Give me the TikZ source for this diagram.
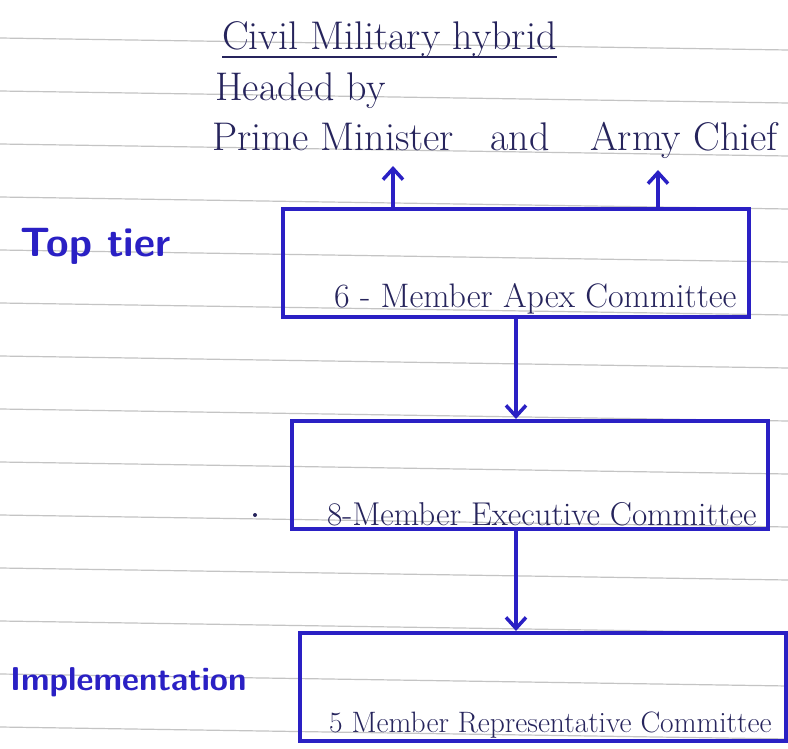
\documentclass[tikz,border=0pt]{standalone}
\usetikzlibrary{arrows.meta}

\definecolor{ink}{RGB}{38,36,92}
\definecolor{pen}{RGB}{42,32,196}
\definecolor{ruling}{RGB}{196,196,196}

\tikzset{
  note/.style={text=ink, font=\fontsize{40}{44}\selectfont, inner sep=0pt, anchor=base west},
  tier/.style={text=pen, font=\sffamily\bfseries\fontsize{33}{36}\selectfont, inner sep=0pt, anchor=base west},
  box/.style={draw=pen, line width=4pt, anchor=north west, minimum height=108},
  boxtext/.style={anchor=south west, text=ink, font=\fontsize{34}{36}\selectfont, inner sep=5pt},
  link/.style={draw=pen, line width=3.5pt, -{Straight Barb[length=11pt,width=20pt]}}
}

\begin{document}
\begin{tikzpicture}[x=1pt,y=-1pt]
  \useasboundingbox[fill=white] (0,0) rectangle (788,749);
  % ruled paper
  \foreach \y in {-15,38,...,780}
    \draw[ruling, line width=1.2pt] (0,\y) -- (788,\y+12);

  % heading
  \node[note] (hybrid) at (222,50) {Civil Military hybrid};
  \draw[ink, line width=1.3pt] ([yshift=-7pt]hybrid.base west) -- ([yshift=-7pt]hybrid.base east);
  \node[note] (head) at (215,101) {Headed by};
  \node[note] (pm) at (212,151) {Prime Minister};
  \node[note] (and) at (490,151) {and};
  \node[note] (army) at (590,151) {Army Chief};
  \coordinate (pmfoot) at (393,166);
  \coordinate (armyfoot) at (658,170);

  % tiers
  \node[tier, font=\sffamily\bfseries\fontsize{41}{44}\selectfont] (top) at (20,257) {Top tier};
  \node[tier] (impl) at (10,690) {Implementation};

  % committees
  \node[box, minimum width=466, label={[boxtext, xshift=48pt]south west:6 - Member Apex Committee}] (apex) at (281,207) {};
  \node[box, minimum width=476, label={[boxtext, xshift=32pt, font=\fontsize{33}{36}\selectfont]south west:8-Member Executive Committee}] (exec) at (290,419) {};
  \node[box, minimum width=486, label={[boxtext, xshift=26pt, font=\fontsize{29.5}{32}\selectfont]south west:5 Member Representative Committee}] (rep) at (298,631) {};

  \path[link] (apex.north -| pmfoot) -- (pmfoot);
  \path[link] (apex.north -| armyfoot) -- (armyfoot);
  \path[link] (apex.south) -- (apex.south |- exec.north);
  \path[link] (exec.south -| apex.south) -- (rep.north -| apex.south);

  \fill[ink] (255,515) circle (2);
\end{tikzpicture}
\end{document}
